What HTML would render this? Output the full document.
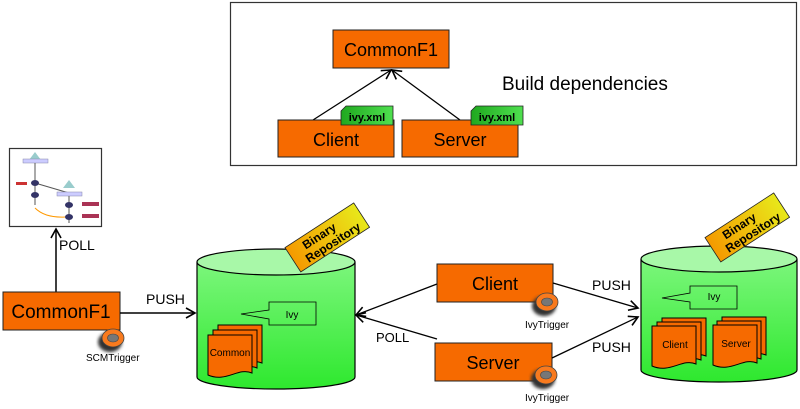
<!DOCTYPE html>
<html><head><meta charset="utf-8"><style>body{margin:0;background:#fff}svg{display:block}text{font-family:"Liberation Sans",sans-serif}</style></head>
<body>
<svg width="800" height="409" viewBox="0 0 800 409" xmlns="http://www.w3.org/2000/svg">
<defs>
<marker id="ah" markerWidth="12" markerHeight="12" refX="10" refY="6" orient="auto" markerUnits="userSpaceOnUse"><path d="M1,1 L10,6 L1,11" fill="none" stroke="#000" stroke-width="1.6"/></marker>
<linearGradient id="cyl" x1="0" y1="0" x2="0" y2="1"><stop offset="0" stop-color="#7cf67c"/><stop offset="1" stop-color="#2ee82e"/></linearGradient>
<linearGradient id="tag" x1="0" y1="0" x2="1" y2="0"><stop offset="0" stop-color="#f59a00"/><stop offset="1" stop-color="#e8e81a"/></linearGradient>
<linearGradient id="ivx" x1="0" y1="0" x2="1" y2="0"><stop offset="0" stop-color="#1fa81f"/><stop offset="1" stop-color="#4fe04f"/></linearGradient>
<filter id="sh"><feGaussianBlur stdDeviation="1.5"/></filter>
<g id="ring"><ellipse cx="-3" cy="4" rx="12" ry="10" fill="#333" filter="url(#sh)"/><ellipse cx="0" cy="0" rx="11" ry="9" fill="#f87a1e" stroke="#444" stroke-width="0.8"/><ellipse cx="0" cy="0" rx="5.5" ry="4" fill="#777" stroke="#444" stroke-width="0.6"/></g>
<g id="doc"><path d="M0,0 h44 v38 c-14,-6 -26,10 -44,2z" fill="#f66a00" stroke="#000" stroke-width="1"/></g>
</defs>

<rect x="230.5" y="2.5" width="566" height="163" fill="#fff" stroke="#333" stroke-width="1.2"/>
<rect x="333" y="30" width="116" height="38" fill="#f66a00" stroke="#222" stroke-width="1"/>
<text x="391" y="56" font-size="18" text-anchor="middle">CommonF1</text>
<line x1="313" y1="120" x2="391" y2="70" stroke="#000" stroke-width="1.3" marker-end="url(#ah)"/>
<line x1="460" y1="120" x2="392" y2="70" stroke="#000" stroke-width="1.3" marker-end="url(#ah)"/>
<rect x="278" y="120" width="116" height="37" fill="#f66a00" stroke="#222" stroke-width="1"/>
<text x="336" y="146" font-size="18" text-anchor="middle">Client</text>
<rect x="402" y="120" width="116" height="37" fill="#f66a00" stroke="#222" stroke-width="1"/>
<text x="460" y="146" font-size="18" text-anchor="middle">Server</text>
<path d="M341,111 l5,-5 h47 v19 h-52z" fill="url(#ivx)" stroke="#222" stroke-width="0.8"/>
<text x="367" y="121" font-size="11" font-weight="bold" text-anchor="middle">ivy.xml</text>
<path d="M471,111 l5,-5 h47 v19 h-52z" fill="url(#ivx)" stroke="#222" stroke-width="0.8"/>
<text x="497" y="121" font-size="11" font-weight="bold" text-anchor="middle">ivy.xml</text>
<text x="502" y="90" font-size="19">Build dependencies</text>

<rect x="9.5" y="148.5" width="92" height="78" fill="#fff" stroke="#333" stroke-width="1.2"/>
<polygon points="35,152 29,160 41,160" fill="#9cc"/><rect x="23" y="159" width="25" height="4" fill="#ccf" stroke="#88a" stroke-width="0.5"/>
<line x1="35" y1="163" x2="35" y2="205" stroke="#555"/>
<line x1="35" y1="183" x2="69" y2="193" stroke="#555"/>
<ellipse cx="35" cy="183" rx="4" ry="3" fill="#336"/><ellipse cx="35" cy="195" rx="4" ry="3" fill="#336"/>
<rect x="16" y="182" width="11" height="3" fill="#c33"/>
<polygon points="69,180 63,188 75,188" fill="#9cc"/><rect x="57" y="192" width="25" height="4" fill="#ccf" stroke="#88a" stroke-width="0.5"/>
<line x1="69" y1="196" x2="69" y2="223" stroke="#555"/>
<ellipse cx="69" cy="205" rx="4" ry="3" fill="#336"/><ellipse cx="69" cy="217" rx="4" ry="3" fill="#336"/>
<rect x="82" y="202" width="17" height="4" fill="#a35"/><rect x="82" y="214" width="17" height="4" fill="#a35"/>
<path d="M35,208 Q45,218 65,217" fill="none" stroke="#f90"/>

<line x1="56" y1="292" x2="56" y2="229" stroke="#000" stroke-width="1.5" marker-end="url(#ah)"/>
<text x="59" y="250" font-size="14">POLL</text>
<rect x="3" y="292" width="117" height="38" fill="#f66a00" stroke="#222" stroke-width="1"/>
<text x="61" y="318" font-size="19" text-anchor="middle">CommonF1</text>
<use href="#ring" x="113" y="338"/>
<text x="86" y="361" font-size="10">SCMTrigger</text>
<line x1="120" y1="313" x2="195" y2="313" stroke="#000" stroke-width="1.5" marker-end="url(#ah)"/>
<text x="146" y="304" font-size="14">PUSH</text>

<path d="M197,262 v115 a79,12 0 0 0 158,0 v-115" fill="url(#cyl)" stroke="#000" stroke-width="1.2"/>
<ellipse cx="276" cy="262" rx="79" ry="13" fill="#a8f8a8" stroke="#000" stroke-width="1.2"/>
<path d="M269,302 h47 v23 h-47 v-6 l-28,-5 l28,-4z" fill="none" stroke="#000" stroke-width="0.8"/>
<text x="292" y="318" font-size="10" text-anchor="middle">Ivy</text>
<use href="#doc" x="218" y="325"/><use href="#doc" x="213" y="330"/><use href="#doc" x="208" y="335"/>
<text x="230" y="356" font-size="10" text-anchor="middle">Common</text>
<g transform="translate(327,237) rotate(-33)"><rect x="-41" y="-14" width="82" height="29" fill="url(#tag)" stroke="#222" stroke-width="0.8"/><text x="-6" y="-1" font-size="12" font-weight="bold" text-anchor="middle">Binary</text><text x="2" y="12" font-size="12" font-weight="bold" text-anchor="middle">Repository</text></g>

<line x1="437" y1="284" x2="356" y2="315" stroke="#000" stroke-width="1.3" marker-end="url(#ah)"/>
<line x1="437" y1="339" x2="356" y2="315" stroke="#000" stroke-width="1.3" marker-end="url(#ah)"/>
<text x="376" y="342" font-size="13">POLL</text>
<rect x="437" y="264" width="116" height="38" fill="#f66a00" stroke="#222" stroke-width="1"/>
<text x="495" y="290" font-size="18" text-anchor="middle">Client</text>
<use href="#ring" x="547" y="302"/>
<text x="525" y="328" font-size="10">IvyTrigger</text>
<rect x="435" y="343" width="117" height="38" fill="#f66a00" stroke="#222" stroke-width="1"/>
<text x="493" y="369" font-size="18" text-anchor="middle">Server</text>
<use href="#ring" x="546" y="375"/>
<text x="525" y="401" font-size="10">IvyTrigger</text>
<line x1="553" y1="283" x2="638" y2="308" stroke="#000" stroke-width="1.3" marker-end="url(#ah)"/>
<line x1="552" y1="358" x2="638" y2="317" stroke="#000" stroke-width="1.3" marker-end="url(#ah)"/>
<text x="592" y="290" font-size="14">PUSH</text>
<text x="592" y="352" font-size="14">PUSH</text>

<path d="M641,259 v111 a78,12 0 0 0 156,0 v-111" fill="url(#cyl)" stroke="#000" stroke-width="1.2"/>
<ellipse cx="719" cy="259" rx="78" ry="13" fill="#a8f8a8" stroke="#000" stroke-width="1.2"/>
<path d="M690,286 h47 v23 h-47 v-7 l-28,-4 l28,-5z" fill="none" stroke="#000" stroke-width="0.8"/>
<text x="714" y="300" font-size="10" text-anchor="middle">Ivy</text>
<use href="#doc" x="662" y="318"/><use href="#doc" x="657" y="322"/><use href="#doc" x="652" y="326"/>
<text x="675" y="348" font-size="10" text-anchor="middle">Client</text>
<use href="#doc" x="722" y="317"/><use href="#doc" x="717" y="321"/><use href="#doc" x="713" y="325"/>
<text x="736" y="347" font-size="10" text-anchor="middle">Server</text>
<g transform="translate(747,227) rotate(-33)"><rect x="-41" y="-14" width="82" height="29" fill="url(#tag)" stroke="#222" stroke-width="0.8"/><text x="-6" y="-1" font-size="12" font-weight="bold" text-anchor="middle">Binary</text><text x="2" y="12" font-size="12" font-weight="bold" text-anchor="middle">Repository</text></g>
</svg>
</body></html>
